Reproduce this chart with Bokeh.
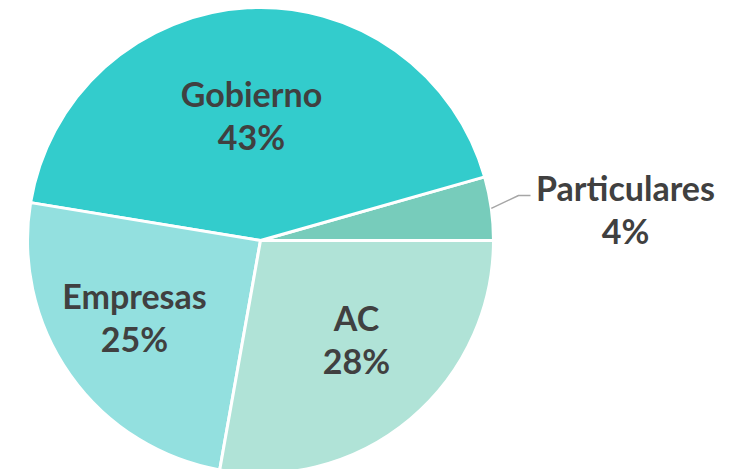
import math
from bokeh.plotting import figure
from bokeh.models import Range1d, ColumnDataSource
from bokeh.core.properties import value
from bokeh.embed import file_html
from bokeh.resources import INLINE

categories = ["Particulares", "Gobierno", "Empresas", "AC"]
shares = [4.4, 43.0, 24.8, 27.8]
pct_labels = ["4%", "43%", "25%", "28%"]
colors = ["#77CCBB", "#33CCCC", "#93E0DF", "#B0E3D7"]

W, H = 742, 469
cx, cy, R = 260, H - 240, 233

total = sum(shares)
starts, ends = [], []
acc = 0.0
for s in shares:
    starts.append(acc / total * 2 * math.pi)
    acc += s
    ends.append(acc / total * 2 * math.pi)

p = figure(width=W, height=H, x_range=Range1d(0, W), y_range=Range1d(0, H),
           output_backend="svg", toolbar_location=None, min_border=0)
p.axis.visible = False
p.grid.visible = False
p.outline_line_color = None
p.background_fill_color = "white"

src = ColumnDataSource(dict(start=starts, end=ends, color=colors))
p.wedge(x=cx, y=cy, radius=R, start_angle="start", end_angle="end",
        fill_color="color", line_color="white", line_width=3, source=src)

# label placement (radial fraction and angle nudge per slice; Particulares outside)
rad_frac = [None, 0.54, 0.633, 0.59]
ang_nudge = [0, 0.9, -4.0, 4.3]
name_x, name_y, pct_x, pct_y = [], [], [], []
for i, c in enumerate(categories):
    mid = (starts[i] + ends[i]) / 2
    if rad_frac[i] is None:
        lx, ly = 625, H - 208
        ax = cx + R * math.cos(mid)
        ay = cy + R * math.sin(mid)
        p.line([ax, 518, 530], [ay, H - 195, H - 195], line_color="#A6A6A6", line_width=1.5)
    else:
        a = mid + math.radians(ang_nudge[i])
        lx = cx + R * rad_frac[i] * math.cos(a)
        ly = cy + R * rad_frac[i] * math.sin(a)
    name_x.append(lx); name_y.append(ly + 21.5)
    pct_x.append(lx); pct_y.append(ly - 21.5)

common = dict(text_font=value("Lato"), text_font_size="34px", text_font_style="bold",
              text_color="#404040", text_align="center", text_baseline="middle")
p.text(x=name_x, y=name_y, text=categories, **common)
p.text(x=pct_x, y=pct_y, text=pct_labels, **common)

open("out.html", "w").write(file_html(p, INLINE))
